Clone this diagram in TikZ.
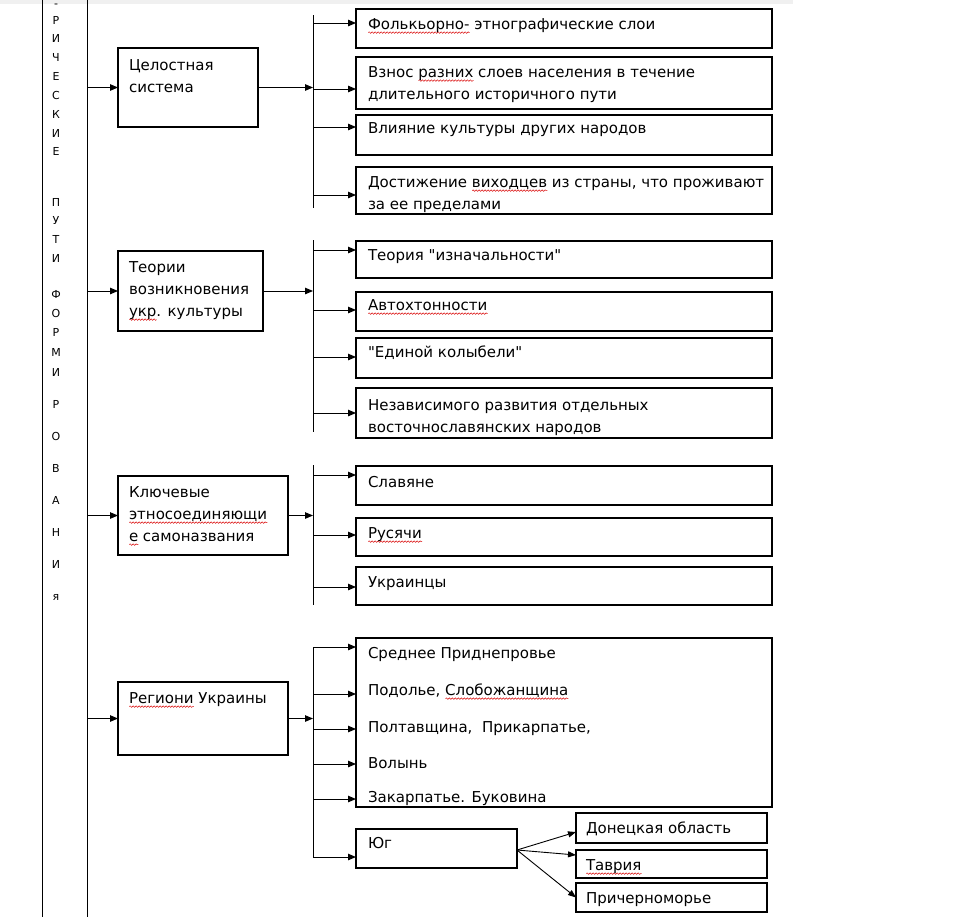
\documentclass[tikz,border=0pt]{standalone}
\usepackage{fontspec}
\setmainfont{DejaVu Sans}[Ligatures=TeXOff]
\usetikzlibrary{arrows.meta,calc,decorations.pathmorphing}
\newcommand\rw[1]{\setbox0\hbox{#1}\rlap{\tikz[baseline=0pt,x=1pt,y=1pt]\draw[red!85!black,line width=0.45pt,decorate,decoration={snake,amplitude=0.8pt,segment length=3pt}] (0,-3.6) -- (\the\wd0,-3.6);}\box0\relax}
\newcommand\branch[3]{\coordinate (#1) at (313,#2); \draw[arr] (#1) -- (#1 -| #3.west);}
\begin{document}
\begin{tikzpicture}[x=1pt,y=-1pt,
  box/.style={draw, line width=1.1pt, inner sep=0pt, outer sep=0pt, anchor=north west},
  txt/.style={anchor=north west, inner sep=0pt, outer sep=0pt, font=\fontsize{15}{22}\selectfont, align=left},
  vl/.style={anchor=base, inner sep=0pt, font=\fontsize{11}{13}\selectfont},
  ln/.style={line width=1pt},
  arr/.style={line width=1pt, -{Triangle[length=8pt,width=6.5pt]}},
  darr/.style={line width=0.9pt, -{Triangle[length=8pt,width=6pt]}}]
\fill[white] (0,0) rectangle (960,918);
\useasboundingbox (0,0) rectangle (960,918);
\fill[black!6] (0,0) rectangle (793,4);

% left column
\coordinate (cl1) at (42,0); \coordinate (cl2) at (42,917);
\coordinate (cr1) at (87,0); \coordinate (cr2) at (87,917);
\draw[ln] (cl1) -- (cl2);
\draw[ln] (cr1) -- (cr2);
\node[vl] (v0) at (56,7) {-};
\foreach \ch/\yy [count=\i] in {Р/20,И/38,Ч/57,Е/76,С/95,К/114,И/133,Е/151,П/202,У/220,Т/239,И/258,Ф/294,О/313,Р/332,М/352,И/372,Р/404,О/436,В/468,А/500,Н/532,И/564}
  \node[vl] (v\i) at (56,\yy+4) {\ch};
\node[vl] (vya) at (56,600) {я};

% ---------- section 1
\node[box, minimum width=140pt, minimum height=79pt] (A) at (118,48) {};
\node[txt] (tA) at (129,54.6) {\strut Целостная\\система};
\node[box, minimum width=416pt, minimum height=39pt] (R11) at (356,9) {};
\node[box, minimum width=416pt, minimum height=52pt] (R12) at (356,57) {};
\node[box, minimum width=416pt, minimum height=40pt] (R13) at (356,115) {};
\node[box, minimum width=416pt, minimum height=47pt] (R14) at (356,167) {};
\node[txt] (t11) at (368,13.6) {\strut\rw{Фолькьорно-} этнографические слои};
\node[txt] (t12) at (368,61.6) {\strut Взнос \rw{разних} слоев населения в течение\\длительного историчного пути};
\node[txt] (t13) at (368,117.6) {\strut Влияние культуры других народов};
\node[txt] (t14) at (368,171.6) {\strut Достижение \rw{виходцев} из страны, что проживают\\за ее пределами};
\draw[arr] (A.west -| cr1) -- (A.west);
\coordinate (b1t) at (313,15); \coordinate (b1b) at (313,208);
\draw[ln] (b1t) -- (b1b);
\draw[arr] (A.east) -- (A.east -| b1t);
\branch{b11}{23}{R11}
\branch{b12}{89}{R12}
\branch{b13}{127}{R13}
\branch{b14}{195}{R14}

% ---------- section 2
\node[box, minimum width=145pt, minimum height=80pt] (B) at (118,251) {};
\node[txt] (tB) at (129,256.6) {\strut Теории\\возникновения\\\rw{укр}. культуры};
\node[box, minimum width=416pt, minimum height=37pt] (R21) at (356,241) {};
\node[box, minimum width=416pt, minimum height=39pt] (R22) at (356,292) {};
\node[box, minimum width=416pt, minimum height=40pt] (R23) at (356,338) {};
\node[box, minimum width=416pt, minimum height=50pt] (R24) at (356,388) {};
\node[txt] (t21) at (368,244.6) {\strut Теория "изначальности"};
\node[txt] (t22) at (368,294.6) {\strut\rw{Автохтонности}};
\node[txt] (t23) at (368,341.6) {\strut"Единой колыбели"};
\node[txt] (t24) at (368,394.6) {\strut Независимого развития отдельных\\восточнославянских народов};
\draw[arr] (B.west -| cr1) -- (B.west);
\coordinate (b2t) at (313,240); \coordinate (b2b) at (313,432);
\draw[ln] (b2t) -- (b2b);
\draw[arr] (B.east) -- (B.east -| b2t);
\branch{b21}{250}{R21}
\branch{b22}{310}{R22}
\branch{b23}{357}{R23}
\branch{b24}{413}{R24}

% ---------- section 3
\node[box, minimum width=170pt, minimum height=79pt] (C) at (118,476) {};
\node[txt] (tC) at (129,481.6) {\strut Ключевые\\\rw{этносоединяющи}\\\rw{е} самоназвания};
\node[box, minimum width=416pt, minimum height=39pt] (R31) at (356,466) {};
\node[box, minimum width=416pt, minimum height=38pt] (R32) at (356,518) {};
\node[box, minimum width=416pt, minimum height=38pt] (R33) at (356,567) {};
\node[txt] (t31) at (368,471.6) {\strut Славяне};
\node[txt] (t32) at (368,522.6) {\strut\rw{Русячи}};
\node[txt] (t33) at (368,571.6) {\strut Украинцы};
\draw[arr] (C.west -| cr1) -- (C.west);
\coordinate (b3t) at (313,465); \coordinate (b3b) at (313,605);
\draw[ln] (b3t) -- (b3b);
\draw[arr] (C.east) -- (C.east -| b3t);
\branch{b31}{475}{R31}
\branch{b32}{535}{R32}
\branch{b33}{587}{R33}

% ---------- section 4
\node[box, minimum width=170pt, minimum height=73pt] (D) at (118,682) {};
\node[txt] (tD) at (129,687.6) {\strut\rw{Региони} Украины};
\node[box, minimum width=416pt, minimum height=169pt] (R4) at (356,638) {};
\node[txt] (t41) at (368,642.6) {\strut Среднее Приднепровье};
\node[txt] (t42) at (368,679.6) {\strut Подолье, \rw{Слобожанщина}};
\node[txt] (t43) at (368,716.6) {\strut Полтавщина,\ \ Прикарпатье,};
\node[txt] (t44) at (368,752.6) {\strut Волынь};
\node[txt] (t45) at (368,786.6) {\strut Закарпатье. Буковина};
\node[box, minimum width=161pt, minimum height=39pt] (Y) at (356,829) {};
\node[txt] (tY) at (368,832.6) {\strut Юг};
\draw[arr] (D.west -| cr1) -- (D.west);
\coordinate (b4t) at (313,647); \coordinate (b4b) at (313,857);
\draw[ln] (b4t) -- (b4b);
\draw[arr] (D.east) -- (D.east -| b4t);
\branch{b41}{647}{R4}
\branch{b42}{694}{R4}
\branch{b43}{729}{R4}
\branch{b44}{764}{R4}
\branch{b45}{799}{R4}
\branch{b46}{857}{Y}

\node[box, minimum width=191pt, minimum height=30pt] (S1) at (576,813) {};
\node[box, minimum width=191pt, minimum height=28pt] (S2) at (576,850) {};
\node[box, minimum width=191pt, minimum height=29pt] (S3) at (576,883) {};
\node[txt] (ts1) at (586,817.6) {\strut Донецкая область};
\node[txt] (ts2) at (586,854.6) {\strut\rw{Таврия}};
\node[txt] (ts3) at (586,887.6) {\strut Причерноморье};
\coordinate (yo) at ([yshift=-1.5pt]Y.east);
\draw[darr] (yo) -- ([yshift=-4pt]S1.west);
\draw[darr] (yo) -- ([yshift=9pt]S2.west);
\draw[darr] (yo) -- (S3.west);
\end{tikzpicture}
\end{document}
